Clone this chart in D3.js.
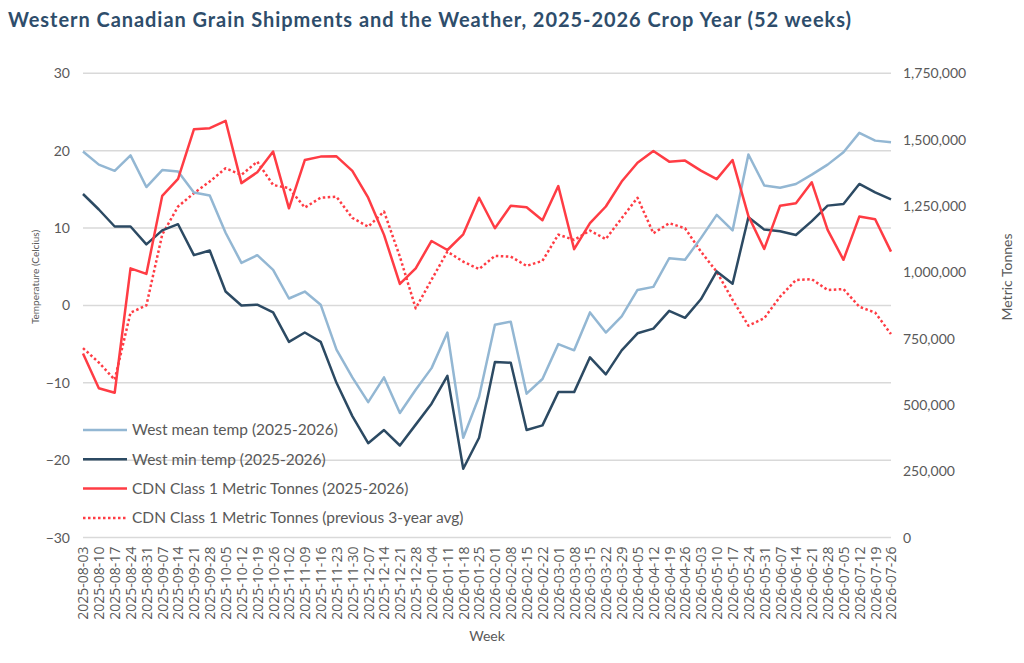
<!DOCTYPE html>
<html>
<head>
<meta charset="utf-8">
<script src="https://cdn.jsdelivr.net/npm/d3@7"></script>
<style>
  body { margin: 0; background: #fff; }
  svg { display: block; }
  text { font-family: "Lato", "Open Sans", sans-serif; fill: #595959; }
</style>
</head>
<body>
<svg id="chart"></svg>
<script>
// weeks of the crop year
const weeks = [
  "2025-08-03","2025-08-10","2025-08-17","2025-08-24","2025-08-31","2025-09-07","2025-09-14","2025-09-21",
  "2025-09-28","2025-10-05","2025-10-12","2025-10-19","2025-10-26","2025-11-02","2025-11-09","2025-11-16",
  "2025-11-23","2025-11-30","2025-12-07","2025-12-14","2025-12-21","2025-12-28","2026-01-04","2026-01-11",
  "2026-01-18","2026-01-25","2026-02-01","2026-02-08","2026-02-15","2026-02-22","2026-03-01","2026-03-08",
  "2026-03-15","2026-03-22","2026-03-29","2026-04-05","2026-04-12","2026-04-19","2026-04-26","2026-05-03",
  "2026-05-10","2026-05-17","2026-05-24","2026-05-31","2026-06-07","2026-06-14","2026-06-21","2026-06-28",
  "2026-07-05","2026-07-12","2026-07-19","2026-07-26"
]

const meanTemp = [
  19.9, 18.2, 17.4, 19.4, 15.3, 17.5, 17.3, 14.6, 14.2, 9.4, 5.5, 6.5, 4.6, 0.9, 1.8, 0.1,
  -5.7, -9.3, -12.5, -9.3, -13.9, -10.9, -8.1, -3.5, -17.1, -11.8, -2.5, -2.1, -11.4, -9.5, -5.0, -5.8,
  -0.9, -3.5, -1.4, 2.0, 2.4, 6.1, 5.9, 8.7, 11.7, 9.7, 19.5, 15.5, 15.2, 15.7, 16.9, 18.2,
  19.8, 22.3, 21.3, 21.1
]

const minTemp = [
  14.4, 12.4, 10.2, 10.2, 7.9, 9.7, 10.5, 6.5, 7.1, 1.8, 0.0, 0.1, -0.9, -4.7, -3.5, -4.7,
  -10.0, -14.3, -17.8, -16.1, -18.1, -15.4, -12.7, -9.1, -21.1, -17.1, -7.3, -7.4, -16.1, -15.5, -11.2, -11.2,
  -6.7, -8.9, -5.8, -3.6, -3.0, -0.7, -1.6, 0.8, 4.4, 2.8, 11.4, 9.8, 9.6, 9.1, 10.9, 12.9,
  13.1, 15.7, 14.6, 13.7
]

const tonnes = [
  694000, 563000, 546000, 1015000, 994000, 1288000, 1352000, 1539000, 1543000, 1571000, 1336000, 1377000,
  1455000, 1241000, 1423000, 1436000, 1437000, 1382000, 1281000, 1141000, 956000, 1015000, 1118000, 1084000,
  1143000, 1281000, 1166000, 1251000, 1245000, 1196000, 1325000, 1087000, 1185000, 1248000, 1342000, 1413000,
  1457000, 1417000, 1421000, 1383000, 1351000, 1423000, 1212000, 1088000, 1251000, 1260000, 1339000, 1160000,
  1047000, 1210000, 1200000, 1078000
]

const tonnesAvg = [
  714000, 660000, 595000, 848000, 875000, 1142000, 1248000, 1298000, 1342000, 1392000, 1367000, 1417000,
  1329000, 1317000, 1244000, 1281000, 1285000, 1205000, 1172000, 1229000, 1059000, 864000, 972000, 1078000,
  1040000, 1012000, 1062000, 1059000, 1024000, 1043000, 1142000, 1122000, 1157000, 1125000, 1204000, 1281000,
  1147000, 1185000, 1166000, 1078000, 1002000, 896000, 799000, 827000, 908000, 971000, 974000, 933000,
  937000, 870000, 848000, 767000
]

const tempTicks = [-30, -20, -10, 0, 10, 20, 30]
const tonneTicks = [0, 250000, 500000, 750000, 1000000, 1250000, 1500000, 1750000]

const seriesNames = [
  "West mean temp (2025-2026)",
  "West min temp (2025-2026)",
  "CDN Class 1 Metric Tonnes (2025-2026)",
  "CDN Class 1 Metric Tonnes (previous 3-year avg)"
]

width = 1024, height = 663
var margin = { top: 73.3, right: 133, bottom: 125.4, left: 83 }

var blue = "#93b7d3", navy = "#2c4a63", red = "#ff3c44"

var svg = d3.select("#chart").attr("width", width).attr("height", height)

var x = d3.scalePoint()
    .domain(weeks)
    .range([margin.left, width - margin.right])
var yT = d3.scaleLinear()
    .domain([-30, 30])
    .range([height - margin.bottom, margin.top])
var yM = d3.scaleLinear()
    .domain([0, 1750000])
    .range([height - margin.bottom, margin.top])

// title
svg.append("text")
    .attr("x", 8).attr("y", 27)
    .attr("textLength", 843).attr("lengthAdjust", "spacing")
    .style("font-family", "'Lato', sans-serif")
    .style("font-weight", "700")
    .style("font-size", "20px")
    .style("fill", "#2e4d6b")
    .text("Western Canadian Grain Shipments and the Weather, 2025-2026 Crop Year (52 weeks)")

// gridlines off the temperature axis
svg.append("g").selectAll("line")
    .data(tempTicks)
    .join("line")
    .attr("x1", margin.left).attr("x2", width - margin.right)
    .attr("y1", d => yT(d)).attr("y2", d => yT(d))
    .attr("stroke", "#d9d9d9").attr("stroke-width", 1.5)

// left axis
var left = svg.append("g")
    .attr("transform", `translate(${margin.left - 13},0)`)
    .call(d3.axisLeft(yT).tickValues(tempTicks).tickSize(0).tickPadding(0))
left.select(".domain").remove()
left.selectAll("text").style("font-size", "14px").attr("fill", "#595959")

// right axis
var right = svg.append("g")
    .attr("transform", `translate(${width - margin.right + 12},0)`)
    .call(d3.axisRight(yM).tickValues(tonneTicks).tickSize(0).tickPadding(0).tickFormat(d3.format(",")))
right.select(".domain").remove()
right.selectAll("text").style("font-size", "14px").attr("fill", "#595959")

// bottom axis, rotated dates
var bottom = svg.append("g")
    .attr("transform", `translate(0,${height - margin.bottom})`)
    .call(d3.axisBottom(x).tickSize(0).tickPadding(0))
bottom.select(".domain").remove()
bottom.selectAll("text")
    .attr("transform", "rotate(-90)")
    .attr("x", -9).attr("y", 0).attr("dy", "0.35em")
    .style("text-anchor", "end")
    .style("font-family", "'Open Sans', sans-serif")
    .style("font-size", "14px")
    .attr("fill", "#595959")

// axis titles
svg.append("text")
    .attr("transform", "translate(35,277) rotate(-90)")
    .attr("text-anchor", "middle").attr("dy", "0.35em")
    .style("font-size", "10px")
    .text("Temperature (Celcius)")
svg.append("text")
    .attr("transform", "translate(1007,277) rotate(-90)")
    .attr("text-anchor", "middle").attr("dy", "0.35em")
    .style("font-size", "14px")
    .text("Metric Tonnes")
svg.append("text")
    .attr("x", (margin.left + width - margin.right) / 2).attr("y", 641)
    .attr("text-anchor", "middle")
    .style("font-size", "14px")
    .text("Week")

// lines
var lineT = d3.line().x((d, i) => x(weeks[i])).y(d => yT(d))
var lineM = d3.line().x((d, i) => x(weeks[i])).y(d => yM(d))

var series = [
    { vals: tonnesAvg, gen: lineM, color: red, dash: "2.5,2.5" },
    { vals: meanTemp, gen: lineT, color: blue, dash: null },
    { vals: minTemp, gen: lineT, color: navy, dash: null },
    { vals: tonnes, gen: lineM, color: red, dash: null }
]

svg.append("g").selectAll("path")
    .data(series)
    .join("path")
    .attr("d", d => d.gen(d.vals))
    .attr("fill", "none")
    .attr("stroke", d => d.color)
    .attr("stroke-width", 2.5)
    .attr("stroke-linejoin", "round")
    .attr("stroke-dasharray", d => d.dash)

// legend
var legColors = [blue, navy, red, red]
var legDash = [null, null, null, "2.5,2.5"]
var leg = svg.append("g").selectAll("g")
    .data(seriesNames)
    .join("g")
    .attr("transform", (d, i) => `translate(83,${430 + i * 29.3})`)
leg.append("line")
    .attr("x1", 0).attr("x2", 44)
    .attr("stroke", (d, i) => legColors[i])
    .attr("stroke-width", 2.5)
    .attr("stroke-dasharray", (d, i) => legDash[i])
leg.append("text")
    .attr("x", 49).attr("dy", "0.35em")
    .style("font-size", "15.5px")
    .text(d => d)
</script>
</body>
</html>
